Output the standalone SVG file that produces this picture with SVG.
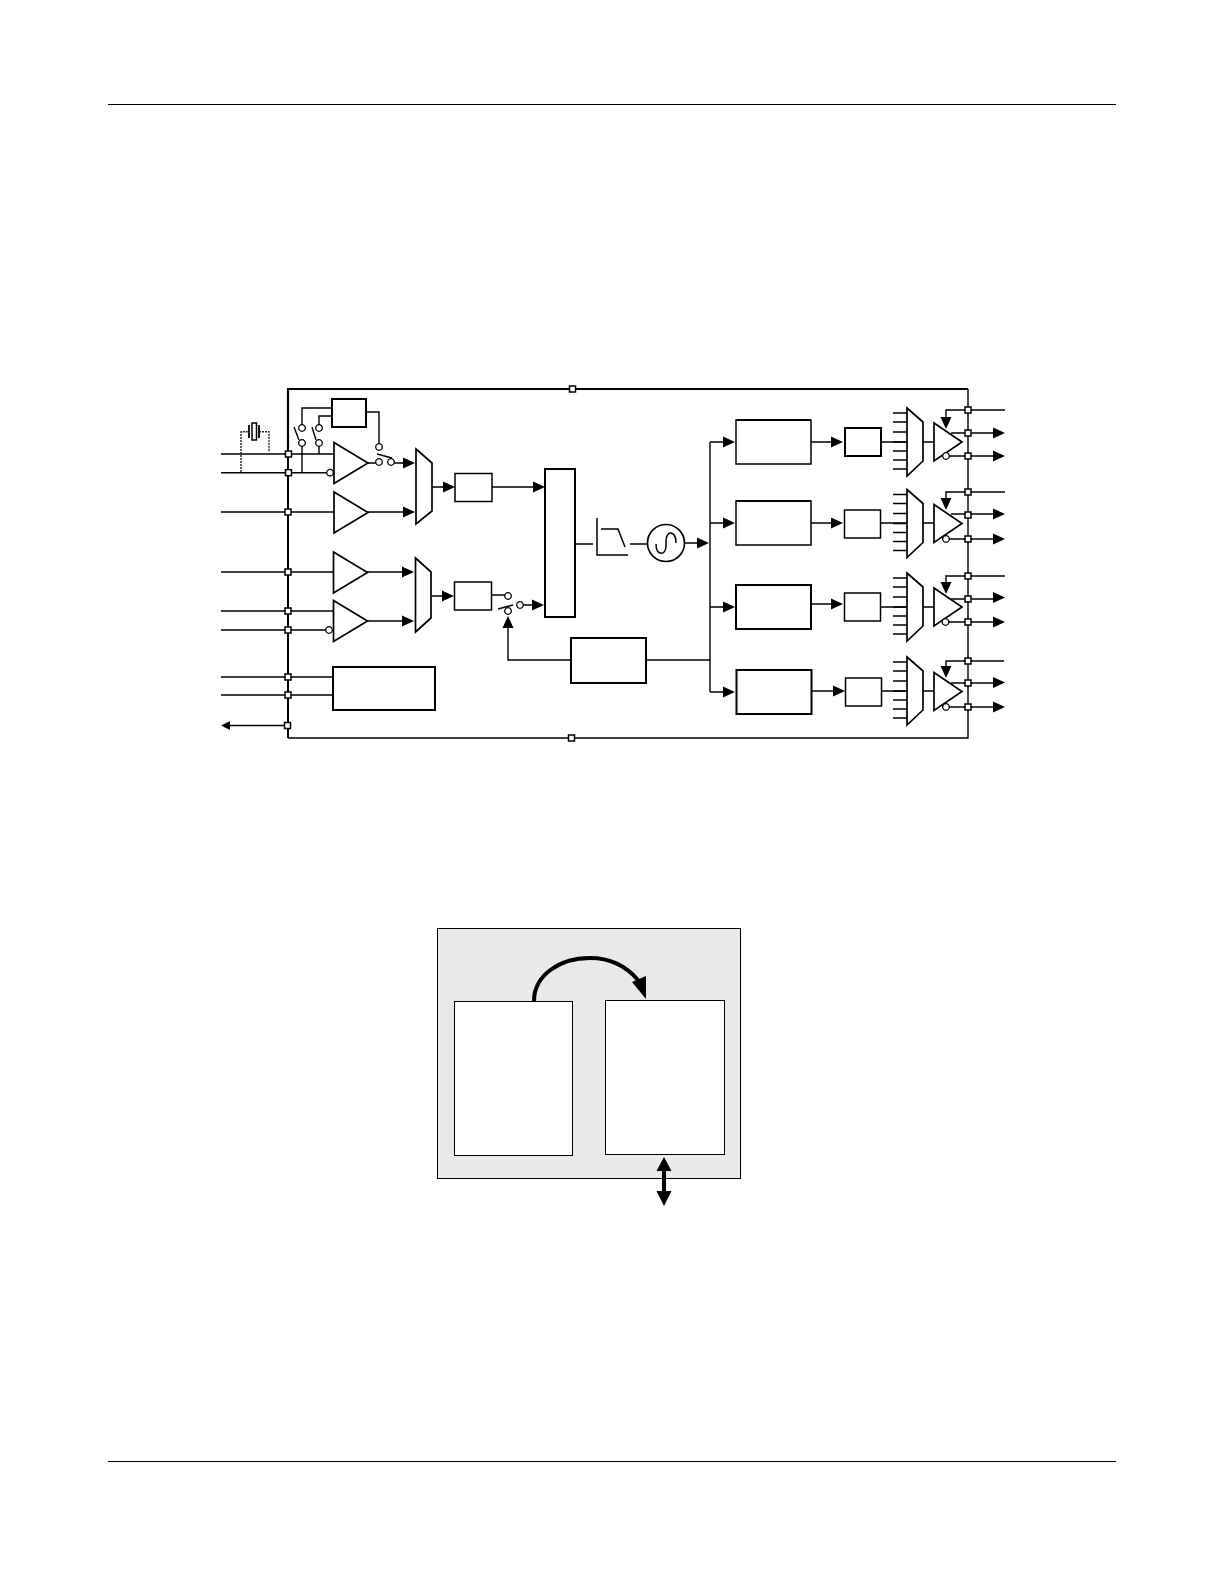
<svg xmlns="http://www.w3.org/2000/svg" width="1224" height="1584" viewBox="0 0 1224 1584">
<style>
.l{fill:none;stroke:#000;stroke-width:1.4}
.b{fill:#fff;stroke:#000;stroke-width:1.5}
.bt{fill:#fff;stroke:#000;stroke-width:2}
.m{fill:#fff;stroke:#000;stroke-width:1.7}
.p{fill:#fff;stroke:#000;stroke-width:1.5}
.c{fill:#fff;stroke:#000;stroke-width:1.3}
.d{fill:none;stroke:#222;stroke-width:1.4;stroke-dasharray:2 1}
.a{fill:#000;stroke:none}
</style>
<defs>
<path id="ar" class="a" d="M0 0L-12 -5.500V5.500Z"/>
<rect id="sq" class="p" x="-3" y="-3" width="6" height="6"/>
<circle id="ci" class="c" r="3.300"/>
<g id="mux">
<path class="m" d="M0 0L16 14V53L0 68Z"/>
<path class="l" d="M-14 5H0M-14 14H0M-14 24H0M-14 34H0M-14 43H0M-14 52H0M-14 61H0"/>
</g>
<path id="dr" class="m" d="M0 -19L28 0L0 19Z"/>
<path id="amp" class="m" d="M0 -20.500L34 0L0 20.500Z"/>
</defs>
<rect width="1224" height="1584" fill="#fff"/>
<g id="page-rules">
<path d="M108 104.500H1116M108 1461.500H1116" fill="none" stroke="#000" stroke-width="1.2"/>
</g>
<g id="connectors">
<path class="l" style="stroke-width:2.2" d="M288 454V389H968"/>
<path class="l" style="stroke-width:2" d="M288 454V738"/>
<path class="l" d="M288 738H968V389"/>
<path class="l" d="M221 454H334M221 472.700H327M221 512H334M221 572H334M221 611H333M221 630H326M221 677H333M221 695H333M226 725.500H288"/>
<path class="l" d="M332 408H302V425M332 416H319V425M302 446V472.700M319 446V454M366 412H379V444"/>
<path class="l" d="M294 427L299 440M312 427L316 440M377 454L392 458"/>
<path class="l" d="M367 463H376M394 463H404M367 512H404M367 572H404M367 621H404"/>
<path class="l" d="M432 487H444M432 596H444" style="stroke-width:1.700"/>
<path class="l" d="M492 487H534M492 595H505M498 609L513 605M523 605H533M508 624V660H571M646 660H710"/>
<path class="l" d="M576 544H593M630 544H648M685 543H698"/>
<path class="l" style="stroke-width:1.500" d="M597 518V555H628M601 529H618L625 547"/>
<path class="l" d="M710 442V692M710 442H724M710 523H724M710 607H724M710 692H724"/>
<path class="l" d="M810 442H832M881 442H907M923 442H934M968 410H1005M946 418V410H968M951 433H994M949 456H994"/>
<path class="l" d="M810 523H832M880 523H907M923 523H934M968 492H1005M946 499V492H968M951 514H994M949 539H994"/>
<path class="l" d="M810 604H832M880 607H907M923 607H934M968 576H1005M946 583V576H968M951 599H994M949 622H994"/>
<path class="l" d="M811 691H833M881 691H907M923 691H934M968 661H1004M946 668V661H968M951 683H994M949 707H994"/>
<path class="d" d="M241 472V431.700H249M259 431.700H269V452"/>
<use href="#ar" transform="translate(415 463)"/><use href="#ar" transform="translate(415 512)"/>
<use href="#ar" transform="translate(414 572)"/><use href="#ar" transform="translate(414 621)"/>
<use href="#ar" transform="translate(455 487)"/><use href="#ar" transform="translate(454 596)"/>
<use href="#ar" transform="translate(545 487)"/><use href="#ar" transform="translate(544 605)"/>
<use href="#ar" transform="translate(508 616) rotate(-90)"/>
<use href="#ar" transform="translate(709 543)"/>
<use href="#ar" transform="translate(735 442)"/><use href="#ar" transform="translate(735 523)"/>
<use href="#ar" transform="translate(735 607)"/><use href="#ar" transform="translate(735 692)"/>
<use href="#ar" transform="translate(843 442)"/><use href="#ar" transform="translate(843 523)"/>
<use href="#ar" transform="translate(843 604)"/><use href="#ar" transform="translate(845 691)"/>
<use href="#ar" transform="translate(946 429) rotate(90)"/><use href="#ar" transform="translate(946 510) rotate(90)"/>
<use href="#ar" transform="translate(946 594) rotate(90)"/><use href="#ar" transform="translate(946 678) rotate(90)"/>
<use href="#ar" transform="translate(1005 433)"/><use href="#ar" transform="translate(1005 456)"/>
<use href="#ar" transform="translate(1005 514)"/><use href="#ar" transform="translate(1005 539)"/>
<use href="#ar" transform="translate(1005 597.500)"/><use href="#ar" transform="translate(1005 622)"/>
<use href="#ar" transform="translate(1005 682.500)"/><use href="#ar" transform="translate(1005 707)"/>
<path class="a" d="M221 725.500L230 721V730Z"/>
</g>
<g id="crystal">
<path class="l" style="stroke-width:1.800" d="M249 425V438M259 425V438"/>
<rect class="b" x="252" y="423" width="4.500" height="17"/>
</g>
<g id="detector-box"><rect class="bt" x="332" y="399" width="34" height="28"/></g>
<g id="amp1"><use href="#amp" transform="translate(334 463)"/></g>
<g id="amp2"><use href="#amp" transform="translate(334 512.500)"/></g>
<g id="amp3"><use href="#amp" transform="translate(333.500 572.500)"/></g>
<g id="amp4"><use href="#amp" transform="translate(333.500 621)"/></g>
<g id="switches">
<use href="#ci" x="302" y="428"/><use href="#ci" x="319" y="428"/>
<use href="#ci" x="302" y="443"/><use href="#ci" x="319" y="443"/>
<use href="#ci" x="330" y="472.700"/><use href="#ci" x="329" y="630"/>
<use href="#ci" x="379" y="447"/><use href="#ci" x="379" y="462"/><use href="#ci" x="391" y="462"/>
<use href="#ci" x="508" y="596"/><use href="#ci" x="520" y="605"/><use href="#ci" x="508" y="611"/>
</g>
<g id="mux1"><path class="m" d="M416 449L432 463V511L416 524Z"/></g>
<g id="mux2"><path class="m" d="M415.500 558L431 572V618L415.500 632Z"/></g>
<g id="box-r"><rect class="b" x="455" y="473.500" width="37" height="28"/></g>
<g id="box-n"><rect class="b" x="454.500" y="582" width="37" height="28"/></g>
<g id="pfd"><rect class="bt" x="545" y="469" width="30" height="148"/></g>
<g id="vco"><circle class="m" cx="666" cy="543" r="18.500"/>
<path class="l" style="stroke-width:1.500" d="M656 544C656 556 666 556 666 546V541C666 530 676 530 676 543"/></g>
<g id="feedback"><rect class="bt" x="571" y="638" width="75" height="45"/></g>
<g id="ctrl"><rect class="bt" x="333" y="667" width="102" height="43"/></g>
<g id="ch1">
<rect class="b" x="736" y="420" width="75" height="44"/>
<path class="l" style="stroke-width:2" d="M736 420H811"/>
<rect class="bt" x="845" y="428" width="36" height="28"/>
<use href="#mux" transform="translate(907 408)"/>
<use href="#dr" transform="translate(934 442)"/>
<use href="#ci" x="946" y="456"/>
</g>
<g id="ch2">
<rect class="b" x="736" y="501" width="75" height="44"/>
<path class="l" style="stroke-width:2" d="M736 501H811"/>
<rect class="b" x="844.500" y="510" width="36" height="28"/>
<use href="#mux" transform="translate(907 489.500)"/>
<use href="#dr" transform="translate(934 523.500)"/>
<use href="#ci" x="946" y="539"/>
</g>
<g id="ch3">
<rect class="bt" x="736" y="585" width="75" height="44"/>
<rect class="b" x="844.500" y="593" width="36" height="28"/>
<use href="#mux" transform="translate(907 573)"/>
<use href="#dr" transform="translate(934 607)"/>
<use href="#ci" x="945.500" y="622"/>
</g>
<g id="ch4">
<rect class="bt" x="736.500" y="670" width="75" height="44"/>
<rect class="b" x="845.500" y="678" width="36" height="28"/>
<use href="#mux" transform="translate(907 657)"/>
<use href="#dr" transform="translate(934 691.500)"/>
<use href="#ci" x="946" y="707"/>
</g>
<g id="pins">
<use href="#sq" x="572.500" y="389"/><use href="#sq" x="571.500" y="738"/>
<use href="#sq" x="288.500" y="454"/><use href="#sq" x="288.500" y="472.700"/><use href="#sq" x="288" y="512"/>
<use href="#sq" x="288" y="572"/><use href="#sq" x="288" y="611"/><use href="#sq" x="288" y="630"/>
<use href="#sq" x="288" y="677"/><use href="#sq" x="288" y="695"/><use href="#sq" x="287.500" y="725.500"/>
<use href="#sq" x="968" y="410"/><use href="#sq" x="968" y="433"/><use href="#sq" x="968" y="456"/>
<use href="#sq" x="968" y="492"/><use href="#sq" x="968" y="515"/><use href="#sq" x="968" y="539"/>
<use href="#sq" x="968" y="576"/><use href="#sq" x="968" y="599"/><use href="#sq" x="968" y="622"/>
<use href="#sq" x="968" y="661"/><use href="#sq" x="968" y="683"/><use href="#sq" x="968" y="707"/>
</g>
<g id="memory-panel"><rect x="437.500" y="928.500" width="303" height="250" fill="#e9e9e9" stroke="#000" stroke-width="1"/></g>
<g id="mem-left"><rect x="454.500" y="1001.500" width="118" height="154" fill="#fff" stroke="#000" stroke-width="1"/></g>
<g id="mem-right"><rect x="605.500" y="1000.500" width="119" height="154" fill="#fff" stroke="#000" stroke-width="1"/></g>
<g id="mem-connectors">
<path d="M534 1001C534 975 560 958 590 958C610 958 626 966 638 980" fill="none" stroke="#000" stroke-width="4"/>
<path class="a" d="M646 999L632 982L646 976Z"/>
<path d="M664 1168V1195" fill="none" stroke="#000" stroke-width="4"/>
<path class="a" d="M664 1157L671.500 1171H656.500ZM664 1206L671.500 1191H656.500Z"/>
</g>
</svg>
